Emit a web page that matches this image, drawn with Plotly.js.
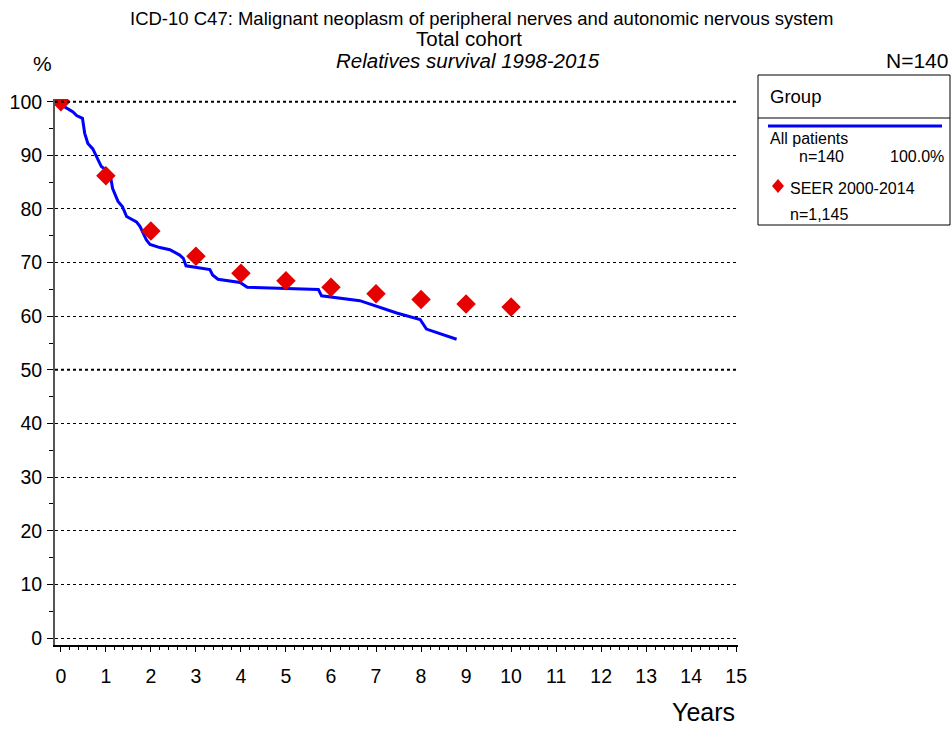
<!DOCTYPE html>
<html><head><meta charset="utf-8">
<script src="https://cdn.plot.ly/plotly-3.0.1.min.js"></script>
<style>html,body{margin:0;padding:0;background:#fff}</style>
</head><body>
<div id="chart" style="width:952px;height:729px"></div>
<script>
// Data
const allYears = [0,0.09,0.27,0.35,0.48,0.53,0.6,0.71,0.79,0.9,1.05,1.11,1.15,1.27,1.37,1.46,1.68,1.76,1.9,1.98,2.2,2.42,2.64,2.72,2.78,3.31,3.37,3.49,3.98,4.14,5.72,5.79,6.64,7.01,7.46,7.98,8.12,8.79];
const allSurv  = [100,99.0,98.1,97.4,96.9,94.1,92.2,91.2,89.8,87.9,87.0,85.7,83.8,81.4,80.4,78.6,77.6,76.7,74.2,73.4,72.8,72.4,71.4,70.8,69.4,68.7,67.7,66.9,66.3,65.4,65.0,63.8,62.9,61.8,60.6,59.4,57.6,55.7];
const seerYears = [0,1,2,3,4,5,6,7,8,9,10];
const seerSurv  = [100,86.2,75.9,71.2,68.0,66.6,65.4,64.2,63.1,62.3,61.7];
const xTicks = [0,1,2,3,4,5,6,7,8,9,10,11,12,13,14,15];
const yTicks = [0,10,20,30,40,50,60,70,80,90,100];

const W=952,H=729,L=55,R=738,T=99,B=645;
const px = x => (x-L)/(R-L);
const py = y => (B-y)/(B-T);
const FONT = 'Liberation Sans, Arial, sans-serif';

const traces = [
  {x: allYears, y: allSurv, mode:'lines', line:{color:'#0000ff', width:3}, hoverinfo:'skip', showlegend:false},
  {x: seerYears, y: seerSurv, mode:'markers', marker:{symbol:'diamond', color:'#e60000', size:15, line:{width:0}}, showlegend:false}
];

const ann = (x,y,text,size,opts={}) => Object.assign({xref:'paper',yref:'paper',x:px(x),y:py(y),text,showarrow:false,font:{family:FONT,size,color:'#000'},xanchor:'center',yanchor:'middle'},opts);

const annotations = [
  ann(481,18,'ICD-10 C47: Malignant neoplasm of peripheral nerves and autonomic nervous system',18.5),
  ann(469,39,'Total cohort',20.5),
  ann(468,60,'<i>Relatives survival 1998-2015</i>',20.5),
  ann(42,63,'%',21),
  ann(950,60,'N=140',21,{xanchor:'right'}),
  ann(703,712,'Years',25),
  ann(768,96,'Group',18.5,{xanchor:'left'}),
  ann(768,138,'All patients',16,{xanchor:'left'}),
  ann(797,157,'n=140',16,{xanchor:'left'}),
  ann(946,157,'100.0%',16,{xanchor:'right'}),
  ann(788,188,'SEER 2000-2014',16,{xanchor:'left'}),
  ann(788,214,'n=1,145',16,{xanchor:'left'})
];

const shapes = [
  {type:'line',xref:'x',yref:'y',x0:-0.13,x1:15.04,y0:100,y1:100,line:{color:'#000',width:2,dash:'dot'}},
  {type:'line',xref:'x',yref:'y',x0:-0.13,x1:15.04,y0:50,y1:50,line:{color:'#000',width:2,dash:'dot'}},
  {type:'rect',xref:'paper',yref:'paper',x0:px(758),x1:px(950),y0:py(75),y1:py(225),line:{color:'#000',width:1}},
  {type:'line',xref:'paper',yref:'paper',x0:px(758),x1:px(950),y0:py(118),y1:py(118),line:{color:'#000',width:1}},
  {type:'line',xref:'paper',yref:'paper',x0:px(768),x1:px(942),y0:py(126),y1:py(126),line:{color:'#0000ff',width:3}},
  {type:'path',xref:'paper',yref:'paper',path:`M ${px(778)} ${py(179)} L ${px(784)} ${py(186)} L ${px(778)} ${py(193)} L ${px(772)} ${py(186)} Z`,fillcolor:'#e60000',line:{width:0}}
];

const layout = {
  width:W,height:H,
  margin:{l:L,r:W-R,t:T,b:H-B,pad:0},
  paper_bgcolor:'#fff',plot_bgcolor:'#fff',
  showlegend:false,
  xaxis:{range:[-0.13,15.04],tickvals:xTicks,ticktext:xTicks.map(String),ticks:'outside',ticklen:5,tickwidth:1,tickcolor:'#000',
    showline:true,linecolor:'#000',linewidth:2,showgrid:false,zeroline:false,
    minor:{dtick:0.2,tick0:0,ticks:'outside',ticklen:3,tickcolor:'#000',showgrid:false},
    tickfont:{family:FONT,size:19.5,color:'#000'},ticklabelstandoff:8},
  yaxis:{range:[-1.3,100.5],tickvals:yTicks,ticktext:yTicks.map(String),ticks:'outside',ticklen:6,tickwidth:1,tickcolor:'#000',
    showline:true,linecolor:'#555',linewidth:2,showgrid:true,gridcolor:'#000',gridwidth:1,griddash:'dot',zeroline:false,
    minor:{dtick:5,tick0:0,ticks:'outside',ticklen:4,tickcolor:'#000',showgrid:false},
    tickfont:{family:FONT,size:19.5,color:'#000'},ticklabelstandoff:1},
  annotations, shapes
};
Plotly.newPlot('chart',traces,layout,{staticPlot:true});
</script>
</body></html>
